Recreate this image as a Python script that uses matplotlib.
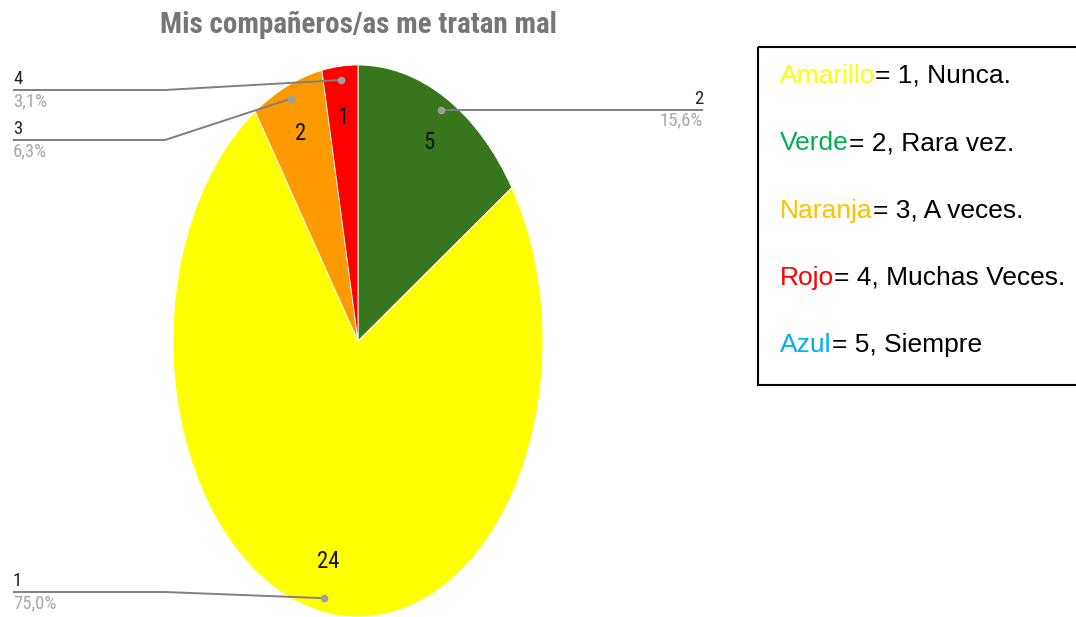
import numpy as np

import matplotlib
matplotlib.use("Agg")
import matplotlib.pyplot as plt
from matplotlib.patches import Rectangle
from matplotlib import font_manager


# -----------------------------------------------------------------------------
# Data
# -----------------------------------------------------------------------------

title = "Mis compañeros/as me tratan mal"

categories = ["2", "1", "3", "4"]          # clockwise from the top
counts = [5, 24, 2, 1]
percent_labels = ["15,6%", "75,0%", "6,3%", "3,1%"]
slice_colors = ["#38761d", "#ffff00", "#ff9900", "#ff0000"]

legend_words = ["Amarillo", "Verde", "Naranja", "Rojo", "Azul"]
legend_rest = ["= 1, Nunca.", "= 2, Rara vez.", "= 3, A veces.",
               "= 4, Muchas Veces.", "= 5, Siempre"]
legend_colors = ["#ffff00", "#00b050", "#ffc000", "#ff0000", "#00b0f0"]


# -----------------------------------------------------------------------------
# Fonts: a condensed face (Google charts use Roboto Condensed)
# -----------------------------------------------------------------------------

names = {f.name for f in font_manager.fontManager.ttflist}
narrow = "Roboto"
for cand in ["Roboto Condensed", "Liberation Sans Narrow", "Arial Narrow",
             "Archivo Narrow", "Barlow Condensed", "Asap Condensed"]:
    if cand in names:
        narrow = cand
        break
plain = "Liberation Sans"


# -----------------------------------------------------------------------------
# Layout (pixels)
# -----------------------------------------------------------------------------

W, H = 1076, 617
cx, cy, rx, ry = 358, 341, 185, 276     # pie ellipse

fig = plt.figure(figsize=(W / 100, H / 100), dpi=100)

pie_ax = fig.add_axes([(cx - rx) / W, 1 - (cy + ry) / H, 2 * rx / W, 2 * ry / H])
wedges, _, inner = pie_ax.pie(
    counts,
    colors=slice_colors,
    startangle=90,
    counterclock=False,
    autopct=lambda p: "{:d}".format(int(round(p * sum(counts) / 100))),
    pctdistance=0.815,
    labels=None,
    wedgeprops=dict(edgecolor="white", linewidth=0.6),
    textprops=dict(family=narrow, fontsize=16.5, color="#111111"),
)
pie_ax.set_xlim(-1, 1)
pie_ax.set_ylim(-1, 1)
pie_ax.set_aspect("auto")
pie_ax.axis("off")

# overlay in pixel coordinates
ov = fig.add_axes([0, 0, 1, 1])
ov.set_xlim(0, W)
ov.set_ylim(H, 0)
ov.axis("off")

ov.text(cx, 25, title, ha="center", va="center", fontsize=21,
        fontweight="bold", family=narrow, color="#767676")

# leader lines
left_x, elbow_x, right_x = 13, 165, 703
left_label_y = {"1": 592, "3": 140, "4": 90}

total = float(sum(counts))
start = 90.0
for cat, n, pct in zip(categories, counts, percent_labels):
    span = 360.0 * n / total
    mid = np.deg2rad(start - span / 2)
    start -= span
    dx = cx + rx * 0.95 * np.cos(mid)
    dy = cy - ry * 0.95 * np.sin(mid)
    if np.cos(mid) > 0:
        xs, ys = [dx, right_x], [dy, dy]
        tx, ty, ha = right_x, dy, "right"
    else:
        ly = left_label_y[cat]
        xs, ys = [dx, elbow_x, left_x], [dy, ly, ly]
        tx, ty, ha = left_x, ly, "left"
    ov.plot(xs, ys, color="#7f7f7f", lw=1.4, solid_capstyle="butt")
    ov.plot([dx], [dy], "o", color="#9e9e9e", ms=4.5)
    ov.text(tx, ty - 2, cat, ha=ha, va="bottom", fontsize=13.5,
            family=narrow, color="#222222")
    ov.text(tx, ty + 2, pct, ha=ha, va="top", fontsize=13.5,
            family=narrow, color="#a8a8a8")

# legend box
ov.add_patch(Rectangle((758, 47), 340, 338, fill=False, edgecolor="black",
                       lw=1.5, clip_on=True))

for i, (word, rest, col) in enumerate(zip(legend_words, legend_rest, legend_colors)):
    y = 76 + i * 67.3
    t = ov.text(780, y, word, ha="left", va="center", fontsize=19,
                family=plain, color=col)
    ov.annotate(rest, xy=(1, 0), xycoords=t, ha="left", va="bottom",
                fontsize=19, family=plain, color="black")

fig.savefig("out.png", dpi=100)
